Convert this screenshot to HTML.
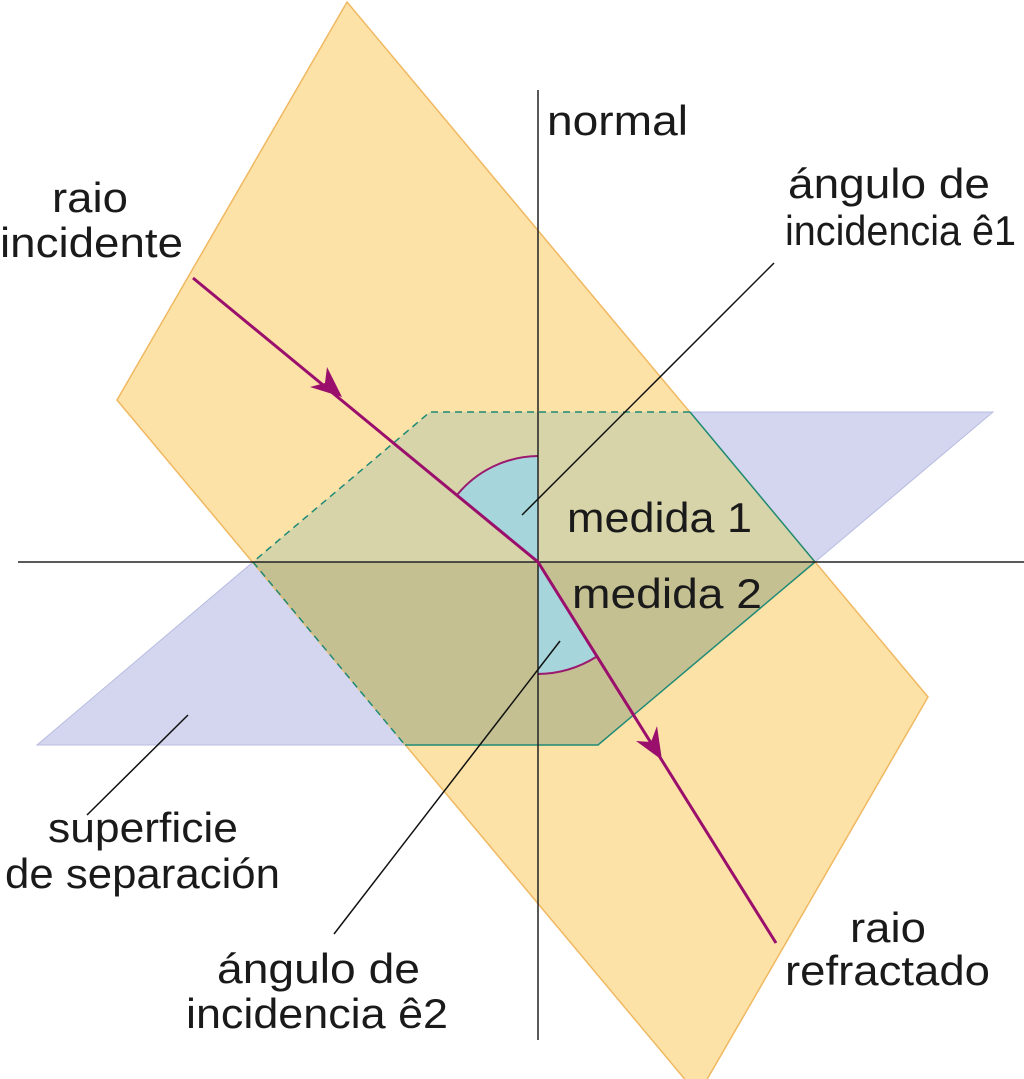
<!DOCTYPE html>
<html><head><meta charset="utf-8"><style>
html,body{margin:0;padding:0;background:#fff;}
svg{display:block;}
text{font-family:"Liberation Sans",sans-serif;font-size:42px;fill:#1a1a1a;}
</style></head><body>
<svg width="1024" height="1079" viewBox="0 0 1024 1079" xmlns="http://www.w3.org/2000/svg">
<polygon points="430,412 993,412 598,745 37,745" fill="#d3d6ee" stroke="#b8bce0" stroke-width="1"/>
<polygon points="347,2 928,697 698,1095 117,400" fill="#fde2a8" stroke="#f0b860" stroke-width="1.5"/>
<polygon points="430,412 690,412 815,562 253,562" fill="#d7d4a9"/>
<polygon points="253,562 815,562 598,745 405,745" fill="#c5c092"/>
<polyline points="690,412 815,562 598,745 405,745" fill="none" stroke="#1f8a76" stroke-width="1.5"/>
<polyline points="690,412 430,412 253,562 405,745" fill="none" stroke="#1f8a76" stroke-width="1.5" stroke-dasharray="7,5"/>
<path d="M538,562 L538,456 A106,106 0 0 0 457,495 Z" fill="#a6d6dc"/>
<path d="M538,456 A106,106 0 0 0 457,495" fill="none" stroke="#9b1a6e" stroke-width="2"/>
<path d="M538,562 L538,674 A112,112 0 0 0 596,657 Z" fill="#a6d6dc"/>
<path d="M538,674 A112,112 0 0 0 596,657" fill="none" stroke="#9b1a6e" stroke-width="2"/>
<line x1="538" y1="90" x2="538" y2="1040" stroke="#222" stroke-width="1.5"/>
<line x1="18" y1="562" x2="1024" y2="562" stroke="#222" stroke-width="1.5"/>
<line x1="774" y1="263" x2="522" y2="515" stroke="#111" stroke-width="1.5"/>
<line x1="560" y1="641" x2="334" y2="934" stroke="#111" stroke-width="1.5"/>
<line x1="188" y1="715" x2="87" y2="815" stroke="#111" stroke-width="1.5"/>
<polyline points="193,278 538,562 776,943" fill="none" stroke="#9b0f6c" stroke-width="3"/>
<polygon points="342,397 310,387 325,383 327,367" fill="#9b0f6c"/>
<polygon points="662,760 636,741 651,742 657,726" fill="#9b0f6c"/>
<text x="547" y="135" textLength="141" lengthAdjust="spacingAndGlyphs">normal</text>
<text x="52" y="212" textLength="76" lengthAdjust="spacingAndGlyphs">raio</text>
<text x="0" y="257" textLength="183" lengthAdjust="spacingAndGlyphs">incidente</text>
<text x="788" y="198" textLength="202" lengthAdjust="spacingAndGlyphs">ángulo de</text>
<text x="785" y="245" textLength="231" lengthAdjust="spacingAndGlyphs">incidencia ê1</text>
<text x="567" y="532" textLength="185" lengthAdjust="spacingAndGlyphs">medida 1</text>
<text x="572" y="608" textLength="190" lengthAdjust="spacingAndGlyphs">medida 2</text>
<text x="48" y="842" textLength="190" lengthAdjust="spacingAndGlyphs">superficie</text>
<text x="5" y="888" textLength="275" lengthAdjust="spacingAndGlyphs">de separación</text>
<text x="217" y="983" textLength="203" lengthAdjust="spacingAndGlyphs">ángulo de</text>
<text x="186" y="1028" textLength="262" lengthAdjust="spacingAndGlyphs">incidencia ê2</text>
<text x="850" y="942" textLength="76" lengthAdjust="spacingAndGlyphs">raio</text>
<text x="785" y="985" textLength="205" lengthAdjust="spacingAndGlyphs">refractado</text>
</svg>
</body></html>
